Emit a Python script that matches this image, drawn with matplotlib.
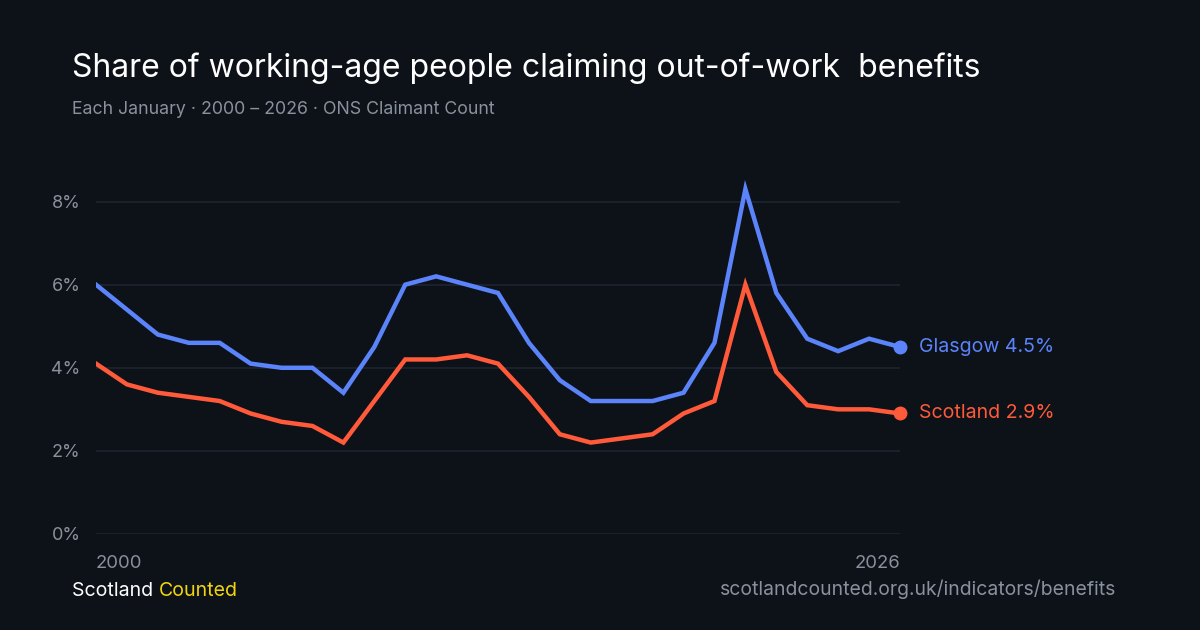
import matplotlib.pyplot as plt
import numpy as np

years = list(range(2000, 2027))
glasgow = [6.0, 5.4, 4.8, 4.6, 4.6, 4.1, 4.0, 4.0, 3.4, 4.5,
           6.0, 6.2, 6.0, 5.8, 4.6, 3.7, 3.2, 3.2, 3.2, 3.4,
           4.6, 8.3, 5.8, 4.7, 4.4, 4.7, 4.5]
scotland = [4.1, 3.6, 3.4, 3.3, 3.2, 2.9, 2.7, 2.6, 2.2, 3.2,
            4.2, 4.2, 4.3, 4.1, 3.3, 2.4, 2.2, 2.3, 2.4, 2.9,
            3.2, 6.0, 3.9, 3.1, 3.0, 3.0, 2.9]
y_ticks = [0, 2, 4, 6, 8]

BG = '#0d1118'
BLUE = '#5b84fa'
RED = '#ff5a3a'
GRID = '#1b212c'
MUTED = '#8a919e'

plt.rcParams['font.family'] = ['Inter', 'DejaVu Sans']

fig = plt.figure(figsize=(12, 6.3), dpi=100, facecolor=BG)
ax = fig.add_axes([96 / 1200, 1 - 534 / 630, 804 / 1200, 374 / 630])
ax.set_facecolor(BG)

for val in y_ticks:
    ax.axhline(val, color=GRID, lw=1.5, zorder=0)

ax.plot(years, glasgow, color=BLUE, lw=3.2, solid_joinstyle='miter', zorder=3)
ax.plot(years, scotland, color=RED, lw=3.2, solid_joinstyle='miter', zorder=3)
ax.plot(years[-1], glasgow[-1], 'o', color=BLUE, ms=9, zorder=4, clip_on=False)
ax.plot(years[-1], scotland[-1], 'o', color=RED, ms=9, zorder=4, clip_on=False)

ax.annotate(f'Glasgow {glasgow[-1]}%', (years[-1], glasgow[-1]), xytext=(14, 0),
            textcoords='offset points', va='center', ha='left', color=BLUE,
            fontsize=14.1, annotation_clip=False)
ax.annotate(f'Scotland {scotland[-1]}%', (years[-1], scotland[-1]), xytext=(14, 0),
            textcoords='offset points', va='center', ha='left', color=RED,
            fontsize=14.1, annotation_clip=False)

ax.set_xlim(2000, 2026)
ax.set_ylim(0, 9)
for s in ax.spines.values():
    s.set_visible(False)
ax.tick_params(length=0)
ax.set_yticks(y_ticks)
ax.set_yticklabels([f'{v}%' for v in y_ticks], color=MUTED, fontsize=13)
ax.tick_params(axis='y', pad=11)
ax.set_xticks([years[0], years[-1]])
ax.set_xticklabels([str(years[0]), str(years[-1])], color=MUTED, fontsize=13.3)
ax.tick_params(axis='x', pad=15)
xl = ax.get_xticklabels()
xl[0].set_ha('left')
xl[1].set_ha('right')

fig.text(72 / 1200, 1 - 77 / 630, 'Share of working-age people claiming out-of-work  benefits',
         color='white', fontsize=23, va='baseline', ha='left')
fig.text(72 / 1200, 1 - 114 / 630, 'Each January · 2000 – 2026 · ONS Claimant Count',
         color=MUTED, fontsize=12.75, va='baseline', ha='left')

t = fig.text(72 / 1200, 1 - 596 / 630, 'Scotland ', color='white', fontsize=14.1,
             va='baseline', ha='left')
fig.canvas.draw()
bb = t.get_window_extent()
fig.text(bb.x1 / 1200, 1 - 596 / 630, 'Counted', color='#f2d50f', fontsize=14.1,
         va='baseline', ha='left')
fig.text(1116 / 1200, 1 - 595 / 630, 'scotlandcounted.org.uk/indicators/benefits',
         color=MUTED, fontsize=13.95, va='baseline', ha='right')

fig.savefig('out.png', dpi=100, facecolor=BG)
